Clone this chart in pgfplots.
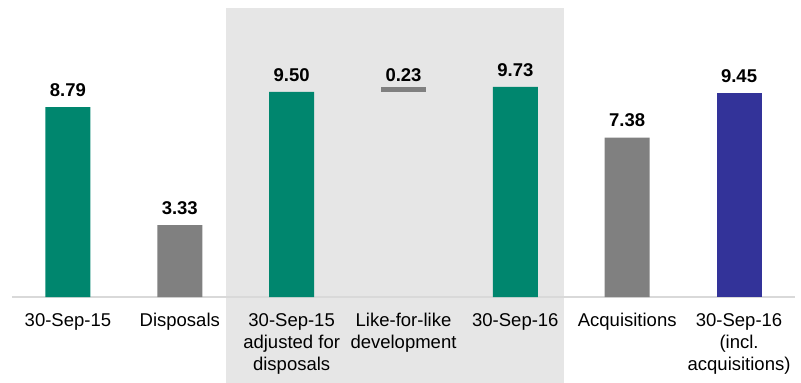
\documentclass[border=0pt]{standalone}
\usepackage{fontspec}
\setmainfont{Liberation Sans}
\usepackage{pgfplots}
\pgfplotsset{compat=1.18}
\definecolor{myteal}{HTML}{00866E}
\definecolor{mygray}{HTML}{808080}
\definecolor{myblue}{HTML}{333399}
\definecolor{shadegray}{HTML}{E6E6E6}
\definecolor{axisgray}{HTML}{D9D9D9}
\pgfplotsset{
  base/.style={at={(0,0)}, anchor=south west, scale only axis,
    width=783pt, height=289pt, xmin=-0.5, xmax=6.5, ymin=0, ymax=13.38,
    clip=false, bar width=45pt,
    /pgf/number format/assume math mode=true,
    nodes near coords={\pgfmathprintnumber[fixed,fixed zerofill,precision=2]{\pgfplotspointmeta}},
    every node near coord/.append style={font=\bfseries\fontsize{18.5}{22}\selectfont, yshift=7pt, black}},
}
\begin{document}
\begin{tikzpicture}
\useasboundingbox (-12pt,-86pt) rectangle (789pt,297pt);
\fill[shadegray] (214pt,-86pt) rectangle (552pt,289pt);
\begin{axis}[base, ybar, bar shift=0pt,
  axis x line*=bottom, axis y line=none,
  x axis line style={axisgray, line width=1.5pt, -},
  xtick={0,...,6}, major tick length=0,
  xticklabels={30-Sep-15, Disposals, {30-Sep-15\\adjusted for\\disposals}, {Like-for-like\\development}, 30-Sep-16, Acquisitions, {30-Sep-16\\(incl.\\acquisitions)}},
  xticklabel style={align=center, font=\fontsize{18.5}{22}\selectfont, yshift=-13pt},
]
\addplot[fill=myteal, draw=none] coordinates {(0,8.79) (2,9.50) (4,9.73)};
\addplot[fill=mygray, draw=none] coordinates {(1,3.33) (5,7.38)};
\addplot[fill=myblue, draw=none] coordinates {(6,9.45)};
\end{axis}
\begin{axis}[base, ybar stacked, bar shift=0pt, hide axis, point meta=explicit]
\addplot[draw=none, fill=none, nodes near coords={}] coordinates {(3,9.50) [9.50]};
\addplot[fill=mygray, draw=none, every node near coord/.append style={yshift=5pt}] coordinates {(3,0.23) [0.23]};
\end{axis}
\end{tikzpicture}
\end{document}
